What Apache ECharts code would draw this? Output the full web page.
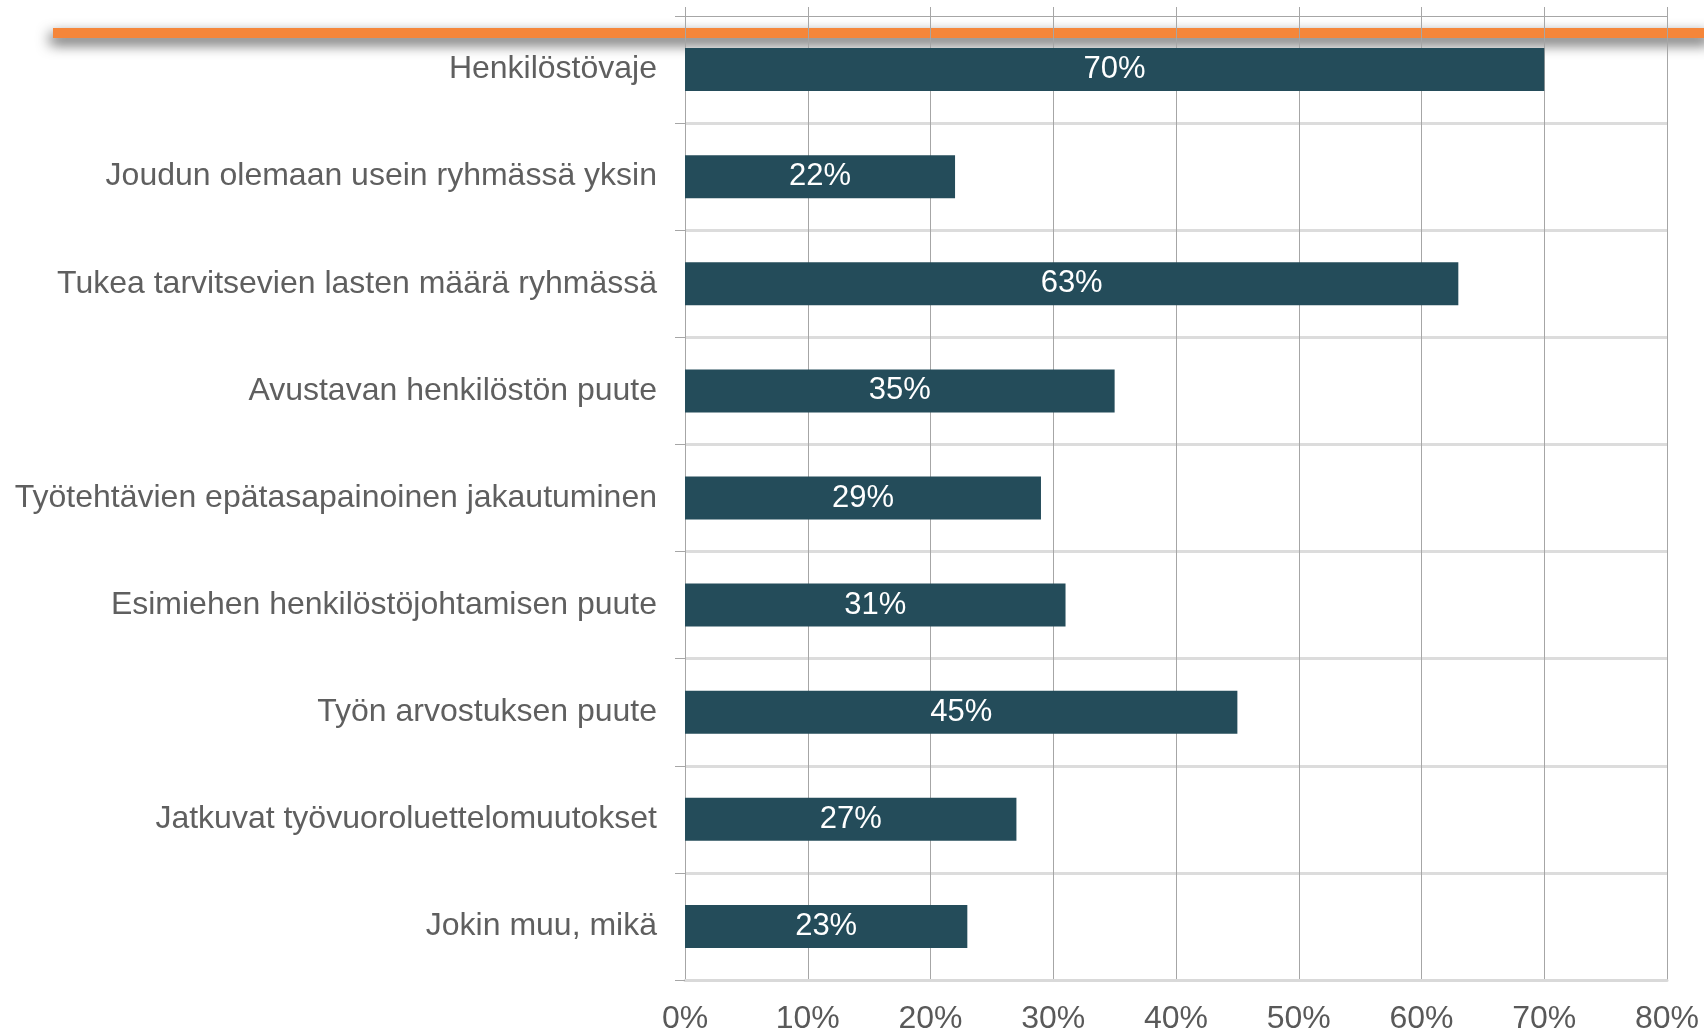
<!DOCTYPE html>
<html>
<head>
<meta charset="utf-8">
<script src="https://cdn.jsdelivr.net/npm/echarts@6/dist/echarts.min.js"></script>
<style>
html,body{margin:0;padding:0;background:#fff;}
#chart{width:1704px;height:1035px;}
</style>
</head>
<body>
<div id="chart"></div>
<script>
const categories = [
  'Henkilöstövaje',
  'Joudun olemaan usein ryhmässä yksin',
  'Tukea tarvitsevien lasten määrä ryhmässä',
  'Avustavan henkilöstön puute',
  'Työtehtävien epätasapainoinen jakautuminen',
  'Esimiehen henkilöstöjohtamisen puute',
  'Työn arvostuksen puute',
  'Jatkuvat työvuoroluettelomuutokset',
  'Jokin muu, mikä'
];
const values = [70, 22, 63, 35, 29, 31, 45, 27, 23];
const axisMin = 0;
const axisMax = 80;
const axisStep = 10;

const chart = echarts.init(document.getElementById('chart'), null, {renderer: 'canvas'});
const FONT = '"Liberation Sans", Arial, sans-serif';
chart.setOption({
  animation: false,
  backgroundColor: '#ffffff',
  graphic: [{
    type: 'rect',
    z: -10,
    shape: {x: 53, y: 28, width: 1660, height: 10},
    style: {
      fill: '#F5863A',
      shadowBlur: 14,
      shadowColor: 'rgba(0,0,0,0.7)',
      shadowOffsetX: -3,
      shadowOffsetY: 6
    }
  }],
  grid: {left: 685, top: 16, width: 982, height: 965, containLabel: false},
  xAxis: [{
    type: 'value',
    min: axisMin,
    max: axisMax,
    interval: axisStep,
    axisLine: {show: true, lineStyle: {color: '#d9d9d9', width: 3}},
    axisTick: {show: false},
    splitLine: {show: true, lineStyle: {color: '#a6a6a6', width: 1}},
    axisLabel: {
      formatter: '{value}%',
      color: '#595959',
      fontSize: 32,
      fontFamily: FONT,
      margin: 23
    }
  }, {
    type: 'value',
    position: 'top',
    min: axisMin,
    max: axisMax,
    interval: axisStep,
    axisLine: {show: true, lineStyle: {color: '#a6a6a6', width: 1}},
    axisTick: {show: true, length: 9, lineStyle: {color: '#a6a6a6', width: 1}},
    splitLine: {show: false},
    axisLabel: {show: false}
  }],
  yAxis: {
    type: 'category',
    data: categories,
    inverse: true,
    axisLine: {show: true, lineStyle: {color: '#a6a6a6', width: 1}},
    axisTick: {show: true, length: 10, lineStyle: {color: '#a6a6a6'}},
    splitLine: {show: true, showMinLine: false, lineStyle: {color: '#dcdcdc', width: 3}},
    axisLabel: {
      color: '#5f5f5f',
      fontSize: 32,
      fontFamily: FONT,
      margin: 28
    }
  },
  series: [{
    type: 'bar',
    data: values,
    barWidth: 43,
    itemStyle: {color: '#244C5A'},
    label: {
      show: true,
      position: 'inside',
      formatter: '{c}%',
      color: '#ffffff',
      fontSize: 31,
      fontFamily: FONT
    },
    z: 3
  }]
});
</script>
</body>
</html>
